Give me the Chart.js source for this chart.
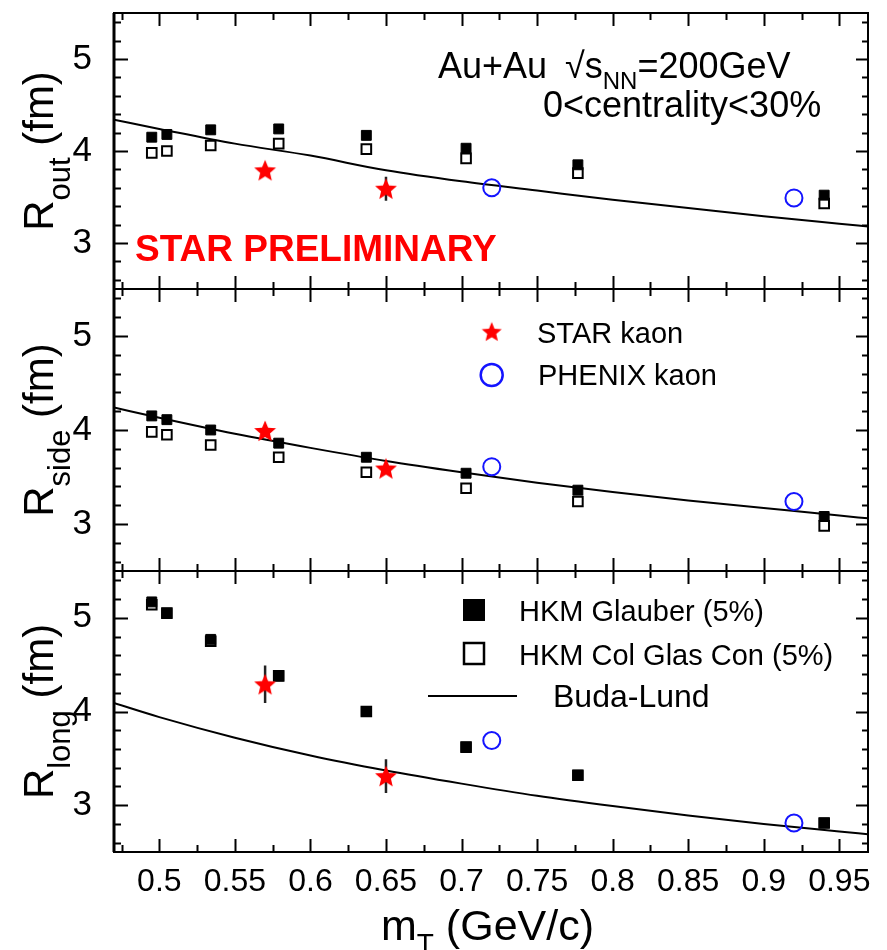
<!DOCTYPE html>
<html><head><meta charset="utf-8">
<script src="https://cdn.jsdelivr.net/npm/chart.js@4.4.1/dist/chart.umd.min.js"></script>
<style>
html,body{margin:0;padding:0;background:#fff;}
#wrap{position:relative;width:887px;height:950px;overflow:hidden;background:#fff;}
#wrap canvas{position:absolute;left:0;top:0;}
</style></head><body>
<div id="wrap">
<canvas id="c1" width="887" height="950"></canvas>
<canvas id="c2" width="887" height="950"></canvas>
<canvas id="c3" width="887" height="950"></canvas>
</div>
<script>
// ---------- data ----------
const hkmMt = [0.495, 0.505, 0.534, 0.579, 0.637, 0.703, 0.777, 0.940];
const starMt = [0.57, 0.65];
const phenixMt = [0.72, 0.92];
const budaMt = [0.47, 0.50, 0.55, 0.60, 0.65, 0.70, 0.75, 0.80, 0.85, 0.90, 0.95, 0.969];

const outGlauber = [4.15, 4.18, 4.23, 4.24, 4.17, 4.03, 3.85, 3.52];
const outCGC     = [3.98, 4.00, 4.06, 4.08, 4.02, 3.92, 3.76, 3.43];
const outStar    = [3.79, 3.59];
const outStarErr = [0.05, 0.13];
const outPhenix  = [3.60, 3.49];
const outBuda    = [4.34, 4.24, 4.08, 3.95, 3.79, 3.67, 3.57, 3.47, 3.38, 3.29, 3.21, 3.18];

const sideGlauber = [4.15, 4.11, 4.00, 3.86, 3.71, 3.54, 3.36, 3.08];
const sideCGC     = [3.98, 3.95, 3.84, 3.71, 3.55, 3.38, 3.24, 2.98];
const sideStar    = [3.99, 3.59];
const sideStarErr = [0.06, 0.06];
const sidePhenix  = [3.61, 3.24];
const sideBuda    = [4.24, 4.13, 3.96, 3.81, 3.67, 3.55, 3.44, 3.34, 3.25, 3.17, 3.09, 3.06];

const longGlauber = [5.17, 5.05, 4.77, 4.38, 4.00, 3.62, 3.32, 2.81];
const longCGC     = [5.14, 5.05, 4.75, 4.38, 4.00, 3.62, 3.32, 2.81];
const longStar    = [4.29, 3.31];
const longStarErr = [0.20, 0.18];
const longPhenix  = [3.69, 2.81];
const longBuda    = [4.09, 3.94, 3.72, 3.53, 3.37, 3.23, 3.10, 2.99, 2.89, 2.80, 2.72, 2.69];

const xMajor = [0.5, 0.55, 0.6, 0.65, 0.7, 0.75, 0.8, 0.85, 0.9, 0.95];
const xTickLabels = ['0.5','0.55','0.6','0.65','0.7','0.75','0.8','0.85','0.9','0.95'];
const xMinor = [0.475, 0.525, 0.575, 0.625, 0.675, 0.725, 0.775, 0.825, 0.875, 0.925];
const yMajor = [3, 4, 5];
const yTickLabels = ['3','4','5'];
const yMinor = [2.6, 2.8, 3.2, 3.4, 3.6, 3.8, 4.2, 4.4, 4.6, 4.8, 5.2, 5.4];

// ---------- styling ----------
const FONT = '"Liberation Sans", Arial, Helvetica, sans-serif';
const RED = '#ff0000';
const BLUE = '#1414ff';

function starCanvas(size, color) {
  const c = document.createElement('canvas');
  c.width = size; c.height = size;
  const g = c.getContext('2d');
  const R = size / 2 - 0.5, r = R * 0.45, cx = size / 2, cy = size / 2 + R * 0.08;
  g.beginPath();
  for (let i = 0; i < 10; i++) {
    const a = -Math.PI / 2 + i * Math.PI / 5;
    const rad = (i % 2) ? r : R;
    g.lineTo(cx + rad * Math.cos(a), cy + rad * Math.sin(a));
  }
  g.closePath();
  g.fillStyle = color;
  g.fill();
  return c;
}
const starImg = starCanvas(24, RED);
const starLegendImg = starCanvas(22, RED);

const pts = (xs, ys) => xs.map((x, i) => ({x: x, y: ys[i]}));

const frameTicks = {
  id: 'frameTicks',
  afterDraw(chart) {
    const {ctx, chartArea: a, scales: {x, y}} = chart;
    ctx.save();
    ctx.strokeStyle = '#000';
    ctx.lineWidth = 2;
    ctx.beginPath();
    const xt = (list, len) => list.forEach(v => {
      const px = Math.round(x.getPixelForValue(v)) + 0.5;
      ctx.moveTo(px, a.bottom); ctx.lineTo(px, a.bottom - len);
      ctx.moveTo(px, a.top); ctx.lineTo(px, a.top + len);
    });
    const yt = (list, lenL, lenR) => list.forEach(v => {
      const py = Math.round(y.getPixelForValue(v)) + 0.5;
      ctx.moveTo(a.left, py); ctx.lineTo(a.left + lenL, py);
      ctx.moveTo(a.right, py); ctx.lineTo(a.right - lenR, py);
    });
    xt(xMajor, 13); xt(xMinor, 7);
    yt(yMajor, 14, 12); yt(yMinor, 7, 6);
    ctx.stroke();
    ctx.strokeRect(a.left, a.top, a.right - a.left, a.bottom - a.top);
    ctx.lineWidth = 3;
    ctx.beginPath();
    ctx.moveTo(a.left, a.top); ctx.lineTo(a.left, a.bottom);
    ctx.stroke();
    ctx.restore();
  }
};

const errorBars = {
  id: 'errorBars',
  beforeDatasetsDraw(chart) {
    const p = chart.config.options.panel;
    const {ctx, scales: {x, y}} = chart;
    ctx.save();
    ctx.strokeStyle = '#222';
    ctx.lineWidth = 2.5;
    ctx.beginPath();
    starMt.forEach((m, i) => {
      const px = x.getPixelForValue(m);
      ctx.moveTo(px, y.getPixelForValue(p.star[i] + p.err[i]));
      ctx.lineTo(px, y.getPixelForValue(p.star[i] - p.err[i]));
    });
    ctx.stroke();
    ctx.restore();
  }
};

function drawYTitle(ctx, cy, main, sub, rest) {
  ctx.save();
  ctx.translate(53, cy);
  ctx.rotate(-Math.PI / 2);
  ctx.fillStyle = '#000';
  ctx.textBaseline = 'alphabetic';
  ctx.textAlign = 'left';
  const fMain = '42px ' + FONT, fSub = '31px ' + FONT;
  ctx.font = fMain; const w1 = ctx.measureText(main).width; const w3 = ctx.measureText(rest).width;
  ctx.font = fSub; const w2 = ctx.measureText(sub).width;
  const x0 = -(w1 + w2 + w3) / 2;
  ctx.font = fMain; ctx.fillText(main, x0, 0);
  ctx.font = fSub; ctx.fillText(sub, x0 + w1, 17);
  ctx.font = fMain; ctx.fillText(rest, x0 + w1 + w2, 0);
  ctx.restore();
}

const panelText = {
  id: 'panelText',
  afterDraw(chart) {
    const p = chart.config.options.panel;
    const {ctx, chartArea: a} = chart;
    drawYTitle(ctx, (a.top + a.bottom) / 2, 'R', p.sub, ' (fm)');
    ctx.save();
    ctx.fillStyle = '#000';
    ctx.textBaseline = 'alphabetic';
    ctx.textAlign = 'left';
    if (p.key === 'out') {
      ctx.font = '36px ' + FONT;
      let xx = 438;
      ctx.fillText('Au+Au', xx, 78);
      xx = 565;
      ctx.fillText('\u221As', xx, 78);
      xx += ctx.measureText('\u221As').width;
      ctx.font = '24px ' + FONT;
      ctx.fillText('NN', xx, 89);
      xx += ctx.measureText('NN').width;
      ctx.font = '36px ' + FONT;
      ctx.fillText('=200GeV', xx, 78);
      ctx.fillText('0<centrality<30%', 543, 117);
      ctx.fillStyle = RED;
      ctx.font = 'bold 37px ' + FONT;
      ctx.fillText('STAR PRELIMINARY', 135, 261);
    } else if (p.key === 'side') {
      ctx.drawImage(starLegendImg, 491.7 - starLegendImg.width / 2, 331.7 - starLegendImg.height / 2);
      ctx.strokeStyle = BLUE; ctx.lineWidth = 2.5;
      ctx.beginPath(); ctx.arc(491.7, 375, 11, 0, Math.PI * 2); ctx.stroke();
      ctx.font = '29px ' + FONT;
      ctx.fillText('STAR kaon', 537, 343);
      ctx.fillText('PHENIX kaon', 538, 385);
    } else {
      ctx.fillRect(463, 599, 22, 22);
      ctx.strokeStyle = '#000'; ctx.lineWidth = 2.5;
      ctx.strokeRect(464, 643, 20, 21);
      ctx.lineWidth = 2;
      ctx.beginPath(); ctx.moveTo(428, 696); ctx.lineTo(517, 696); ctx.stroke();
      ctx.font = '29px ' + FONT;
      ctx.fillText('HKM Glauber (5%)', 519, 621);
      ctx.fillText('HKM Col Glas Con (5%)', 519, 665);
      ctx.font = '32px ' + FONT;
      ctx.fillText('Buda-Lund', 553, 707);
      // x-axis title
      ctx.font = '43px ' + FONT;
      let xx = 381;
      ctx.fillText('m', xx, 940);
      xx += ctx.measureText('m').width;
      ctx.font = '28px ' + FONT;
      ctx.fillText('T', xx, 953);
      xx += ctx.measureText('T').width;
      ctx.font = '43px ' + FONT;
      ctx.fillText(' (GeV/c)', xx, 940);
    }
    ctx.restore();
  }
};

const panels = [
  {id: 'c1', key: 'out',  sub: 'out',  top: 9,   bottom: 289, bottomPanel: false,
   g: outGlauber, c: outCGC, star: outStar, err: outStarErr, ph: outPhenix, bl: outBuda},
  {id: 'c2', key: 'side', sub: 'side', top: 289, bottom: 571, bottomPanel: false,
   g: sideGlauber, c: sideCGC, star: sideStar, err: sideStarErr, ph: sidePhenix, bl: sideBuda},
  {id: 'c3', key: 'long', sub: 'long', top: 571, bottom: 852, bottomPanel: true,
   g: longGlauber, c: longCGC, star: longStar, err: longStarErr, ph: longPhenix, bl: longBuda}
];

panels.forEach(p => {
  new Chart(document.getElementById(p.id), {
    type: 'scatter',
    data: {
      datasets: [
        {label: 'STAR kaon', data: pts(starMt, p.star), pointStyle: starImg, pointRadius: 12},
        {label: 'PHENIX kaon', data: pts(phenixMt, p.ph), pointStyle: 'circle', pointRadius: 8.5,
         borderColor: BLUE, borderWidth: 2, backgroundColor: 'rgba(0,0,0,0)'},
        {label: 'HKM Glauber (5%)', data: pts(hkmMt, p.g), pointStyle: 'rect', pointRadius: 7,
         backgroundColor: '#000', borderColor: '#000', borderWidth: 1},
        {label: 'HKM Col Glas Con (5%)', data: pts(hkmMt, p.c), pointStyle: 'rect', pointRadius: 6.8,
         backgroundColor: 'rgba(0,0,0,0)', borderColor: '#000', borderWidth: 2},
        {label: 'Buda-Lund', data: pts(budaMt, p.bl), showLine: true, pointRadius: 0,
         borderColor: '#000', borderWidth: 2, cubicInterpolationMode: 'monotone', fill: false}
      ]
    },
    options: {
      panel: p,
      responsive: false,
      animation: false,
      devicePixelRatio: 1,
      events: [],
      layout: {padding: {left: 0, right: 19, top: p.top, bottom: p.bottomPanel ? 0 : 950 - p.bottom}},
      plugins: {legend: {display: false}, tooltip: {enabled: false}},
      scales: {
        x: {
          type: 'linear', min: 0.47, max: 0.969, display: p.bottomPanel,
          grid: {display: false}, border: {display: false},
          afterBuildTicks: s => { s.ticks = xMajor.map(v => ({value: v})); },
          afterFit: s => {
            s.height = p.bottomPanel ? 950 - p.bottom : 0;
            s.paddingLeft = 0; s.paddingRight = 0;
          },
          ticks: {font: {family: FONT, size: 32}, color: '#000', padding: 3,
                  maxRotation: 0, autoSkip: false, callback: (v, i) => xTickLabels[i]}
        },
        y: {
          type: 'linear', min: 2.5, max: 5.5,
          grid: {display: false}, border: {display: false},
          afterBuildTicks: s => { s.ticks = yMajor.map(v => ({value: v})); },
          afterFit: s => { s.width = 114; s.paddingTop = 0; s.paddingBottom = 0; },
          ticks: {font: {family: FONT, size: 35}, color: '#000', padding: 14,
                  callback: (v, i) => yTickLabels[i]}
        }
      }
    },
    plugins: [errorBars, frameTicks, panelText]
  });
});
</script>
</body></html>
